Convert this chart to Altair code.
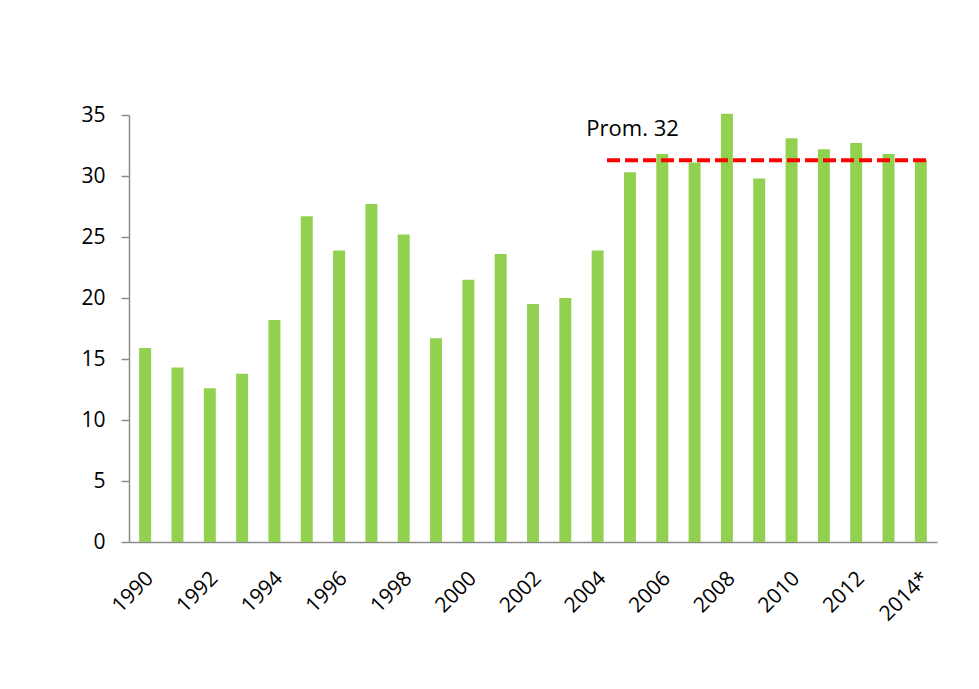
import altair as alt
import pandas as pd

years = ["1990", "1991", "1992", "1993", "1994", "1995", "1996", "1997", "1998",
         "1999", "2000", "2001", "2002", "2003", "2004", "2005", "2006", "2007",
         "2008", "2009", "2010", "2011", "2012", "2013", "2014*"]
values = [15.9, 14.3, 12.6, 13.8, 18.2, 26.7, 23.9, 27.7, 25.2,
          16.7, 21.5, 23.6, 19.5, 20.0, 23.9, 30.3, 31.8, 31.1,
          35.1, 29.8, 33.1, 32.2, 32.7, 31.8, 31.3]
shown_labels = ["1990", "1992", "1994", "1996", "1998", "2000", "2002",
                "2004", "2006", "2008", "2010", "2012", "2014*"]
avg_label = "Prom. 32"
avg_value = 31.3
avg_start = "2004"
avg_end = "2014*"

FONT = "Open Sans"

df = pd.DataFrame({"year": years, "value": values})

x_scale = alt.Scale(domain=years, paddingInner=0, paddingOuter=0)
y_scale = alt.Scale(domain=[0, 35], nice=False)

bars = alt.Chart(df).mark_bar(
    color="#92d050", width=alt.RelativeBandSize(0.37)
).encode(
    x=alt.X("year:N", scale=x_scale, sort=years,
            axis=alt.Axis(values=shown_labels, title=None, labelAngle=-45,
                          labelAlign="right", labelBaseline="middle",
                          labelPadding=33, labelOffset=5, ticks=False, tickSize=0,
                          labelFont=FONT, labelFontSize=21, labelColor="#000000",
                          domainColor="#8c8c8c", domainWidth=1.5,
                          labelOverlap=False, grid=False)),
    y=alt.Y("value:Q", scale=y_scale,
            axis=alt.Axis(values=[0, 5, 10, 15, 20, 25, 30, 35], title=None,
                          tickSize=8, tickColor="#8c8c8c", tickWidth=1.5,
                          labelPadding=16, labelFont=FONT, labelFontSize=21,
                          labelColor="#000000", domainColor="#8c8c8c",
                          domainWidth=1.5, grid=False)),
)

rule = alt.Chart(pd.DataFrame({"v": [avg_value]})).mark_rule(
    color="#ff0000", strokeWidth=4, strokeDash=[13, 5], strokeCap="butt"
).encode(
    x=alt.X("start:N", scale=x_scale, bandPosition=0.79),
    x2=alt.X2("end:N", bandPosition=0.74),
    y=alt.Y("v:Q", scale=y_scale),
).transform_calculate(start=f"'{avg_start}'", end=f"'{avg_end}'")

text = alt.Chart(pd.DataFrame({"t": [avg_label]})).mark_text(
    align="left", baseline="alphabetic", font=FONT, fontSize=22, color="#000000"
).encode(
    x=alt.X("start:N", scale=x_scale, bandPosition=0.15),
    y=alt.datum(33.3),
    text="t:N",
).transform_calculate(start=f"'{avg_start}'")

chart = alt.layer(bars, rule, text).properties(
    width=808, height=427,
    autosize=alt.AutoSizeParams(type="none"),
    padding={"left": 121, "top": 107, "right": 30, "bottom": 130},
    background="#ffffff",
).configure_view(stroke=None)

chart.save("out.html", embed_options={"renderer": "svg", "actions": False})
